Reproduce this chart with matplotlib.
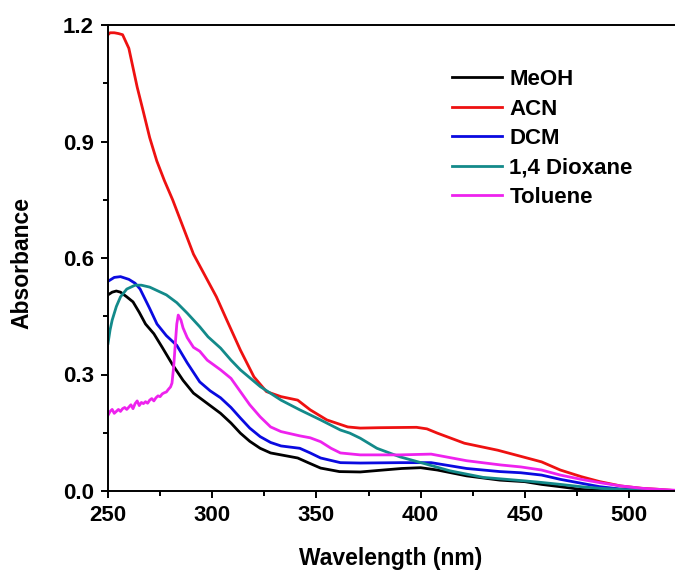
import matplotlib
matplotlib.use("Agg")
import matplotlib.pyplot as plt
from matplotlib.ticker import MultipleLocator, FormatStrFormatter

plt.rcParams['font.family'] = ['Liberation Sans', 'DejaVu Sans']
plt.rcParams['font.weight'] = 'bold'

labels = ["MeOH", "ACN", "DCM", "1,4 Dioxane", "Toluene"]
colors = ["#000000", "#ee1111", "#0a0ae0", "#138a8a", "#ee22ee"]

wl_meoh = [250, 252, 254, 256, 259, 262, 265, 268, 272, 276, 281, 286, 291, 294, 299, 304, 309, 313.5, 318, 323, 328, 333, 341, 346, 352, 361, 371, 382, 391, 400, 408, 422, 438, 450, 458, 467, 477, 487, 500, 522]
a_meoh = [0.505, 0.512, 0.515, 0.512, 0.5, 0.487, 0.46, 0.43, 0.405, 0.37, 0.325, 0.285, 0.252, 0.24, 0.22, 0.2, 0.175, 0.149, 0.128, 0.11, 0.098, 0.093, 0.085, 0.073, 0.059, 0.05, 0.049, 0.054, 0.058, 0.06, 0.054, 0.039, 0.028, 0.024, 0.017, 0.011, 0.004, 0.001, 0.0, 0.0]

wl_acn = [250, 251, 253, 255, 257, 260, 262, 264, 266.8, 270, 273.4, 277, 281, 286, 291, 296, 302, 307, 313.5, 320, 326, 333, 341, 347, 355, 365, 371, 380, 398, 403, 408, 421, 437, 451, 458, 467, 477, 486, 496, 506, 515, 522]
a_acn = [1.175, 1.18, 1.18, 1.178, 1.175, 1.14, 1.09, 1.04, 0.98, 0.91, 0.85, 0.8, 0.75, 0.68, 0.61, 0.56, 0.5, 0.44, 0.363, 0.294, 0.256, 0.243, 0.234, 0.209, 0.183, 0.165, 0.162, 0.163, 0.164, 0.16, 0.149, 0.123, 0.105, 0.085, 0.075, 0.054, 0.037, 0.024, 0.013, 0.007, 0.004, 0.001]

wl_dcm = [250, 253, 256, 260, 263, 265.4, 270, 273.5, 278, 283, 288, 294, 299, 304, 309, 313.5, 318, 323, 328, 333, 342, 347, 352, 361.5, 371, 390, 405, 422, 438, 448, 458, 467, 477, 486, 496, 506, 522]
a_dcm = [0.54, 0.55, 0.552, 0.545, 0.535, 0.52, 0.47, 0.43, 0.4, 0.375, 0.33, 0.281, 0.258, 0.24, 0.215, 0.188, 0.162, 0.14, 0.125, 0.116, 0.11, 0.098, 0.085, 0.073, 0.072, 0.073, 0.073, 0.058, 0.05, 0.047, 0.041, 0.03, 0.02, 0.011, 0.005, 0.001, 0.0]

wl_diox = [250, 251, 252, 254, 256, 259, 263, 266, 270, 278, 283, 288, 294, 298, 304, 309, 313.5, 323, 333, 342, 352, 361.5, 366, 371, 379, 390, 401.5, 414, 430, 450, 458, 467, 477, 486, 496, 506, 522]
a_diox = [0.38, 0.415, 0.44, 0.475, 0.5, 0.52, 0.53, 0.53, 0.525, 0.505, 0.485, 0.458, 0.423, 0.397, 0.368, 0.337, 0.312, 0.269, 0.234, 0.209, 0.183, 0.157, 0.149, 0.136, 0.11, 0.088, 0.071, 0.052, 0.035, 0.026, 0.022, 0.017, 0.011, 0.007, 0.004, 0.001, 0.0]

wl_tol = [250, 251, 252, 253, 254, 255, 256, 257, 258, 259, 260, 261, 262, 263, 264, 265, 266, 267, 268, 269, 270, 271, 272, 273, 274, 275, 276, 277, 278, 279, 280, 280.7, 281.5, 282.3, 283, 283.7, 285, 286, 288, 291, 294, 297.6, 304, 309, 313.5, 318, 323, 328, 333, 342, 347, 352, 357, 361.5, 371, 390, 405, 422, 438.5, 448, 458, 467, 477, 486.5, 496, 506, 515, 522]
a_tol = [0.195, 0.205, 0.21, 0.2, 0.205, 0.21, 0.205, 0.212, 0.215, 0.21, 0.216, 0.222, 0.212, 0.225, 0.232, 0.22, 0.228, 0.225, 0.23, 0.226, 0.234, 0.238, 0.232, 0.24, 0.245, 0.243, 0.25, 0.253, 0.255, 0.262, 0.268, 0.278, 0.32, 0.38, 0.43, 0.453, 0.44, 0.42, 0.395, 0.37, 0.36, 0.337, 0.312, 0.29, 0.256, 0.222, 0.191, 0.165, 0.153, 0.142, 0.137, 0.127, 0.11, 0.098, 0.093, 0.093, 0.095, 0.078, 0.067, 0.062, 0.054, 0.041, 0.03, 0.021, 0.013, 0.007, 0.004, 0.002]

series = [(wl_meoh, a_meoh), (wl_acn, a_acn), (wl_dcm, a_dcm), (wl_diox, a_diox), (wl_tol, a_tol)]

fig = plt.figure(figsize=(6.75, 5.72), dpi=100)
ax = fig.add_axes([108/675, 1-491/572, 567/675, 466/572])

for (x, y), lab, c in zip(series, labels, colors):
    ax.plot(x, y, color=c, lw=2.0, label=lab, solid_joinstyle='round')

ax.set_xlim(250, 522)
ax.set_ylim(0, 1.2)
ax.xaxis.set_major_locator(MultipleLocator(50))
ax.xaxis.set_minor_locator(MultipleLocator(25))
ax.yaxis.set_major_locator(MultipleLocator(0.3))
ax.yaxis.set_minor_locator(MultipleLocator(0.15))
ax.yaxis.set_major_formatter(FormatStrFormatter('%.1f'))
ax.tick_params(which='major', direction='out', length=5, width=1.4, labelsize=16, pad=5)
ax.tick_params(which='minor', direction='out', length=3.5, width=1.4)
for s in ['left', 'bottom', 'top']:
    ax.spines[s].set_linewidth(1.4)
ax.spines['right'].set_visible(False)

ax.set_xlabel("Wavelength (nm)", fontsize=16.5, fontweight='bold')
ax.set_ylabel("Absorbance", fontsize=16.5, fontweight='bold')
ax.xaxis.set_label_coords((391-108)/567, -(547-491)/466)
ax.yaxis.set_label_coords(-(108-33)/567, 0.49)

leg = ax.legend(loc='upper left', bbox_to_anchor=(0.606, 0.905), frameon=False,
                fontsize=16, handlelength=2.25, handletextpad=0.35,
                labelspacing=0.38, borderaxespad=0, borderpad=0)
for t in leg.get_texts():
    t.set_fontweight('bold')

fig.savefig("out.png", dpi=100)
